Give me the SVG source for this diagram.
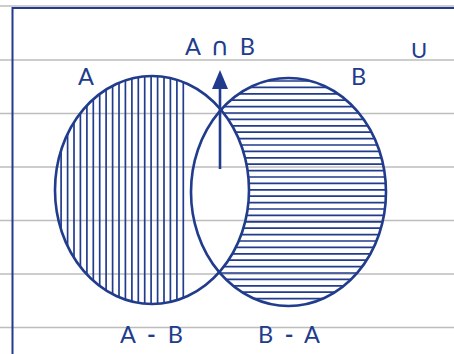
<svg xmlns="http://www.w3.org/2000/svg" width="454" height="354" viewBox="0 0 454 354">
<style>
.grid{stroke:#bdbdbd;stroke-width:1.5;fill:none}
.frame{stroke:#213c8c;stroke-width:2;fill:none}
.set{stroke:#213c8c;stroke-width:2.6;fill:none}
.hatch{stroke:#213c8c;stroke-width:1.7;fill:none}
.lbl{font-family:Lato,"Liberation Sans",sans-serif;font-size:23.5px;fill:#213c8c}
</style>
<defs>
<clipPath id="clipA"><ellipse cx="152" cy="190" rx="97" ry="114"/></clipPath>
<mask id="maskB" maskUnits="userSpaceOnUse" x="0" y="0" width="454" height="354">
<ellipse cx="288.5" cy="192" rx="97.5" ry="114" fill="#fff"/>
<ellipse cx="152" cy="190" rx="97" ry="114" fill="#000"/>
</mask>
</defs>
<g id="grid">
<path class="grid" d="M0 6H454M0 60H454M0 113.5H454M0 167H454M0 220.5H454M0 274H454M0 327.5H454"/>
</g>
<g id="frame">
<path class="frame" d="M12.5 354V8H454"/>
</g>
<g id="hatchA" clip-path="url(#clipA)">
<path class="hatch" d="M61.1 70V310M67.6 70V310M74 70V310M80.4 70V310M86.9 70V310M93.3 70V310M99.7 70V310M106.1 70V310M112.6 70V310M119 70V310M125.4 70V310M131.9 70V310M138.3 70V310M144.7 70V310M151.1 70V310M157.6 70V310M164 70V310M170.4 70V310M176.9 70V310M183.3 70V310"/>
</g>
<g id="hatchB" mask="url(#maskB)">
<path class="hatch" d="M180 81H400M180 87.4H400M180 93.8H400M180 100.2H400M180 106.6H400M180 113H400M180 119.4H400M180 125.8H400M180 132.2H400M180 138.6H400M180 145H400M180 151.4H400M180 157.8H400M180 164.2H400M180 170.6H400M180 177H400M180 183.4H400M180 189.8H400M180 196.2H400M180 202.6H400M180 209H400M180 215.4H400M180 221.8H400M180 228.2H400M180 234.6H400M180 241H400M180 247.4H400M180 253.8H400M180 260.2H400M180 266.6H400M180 273H400M180 279.4H400M180 285.8H400M180 292.2H400M180 298.6H400"/>
</g>
<g id="setA"><ellipse class="set" cx="152" cy="190" rx="97" ry="114"/></g>
<g id="setB"><ellipse class="set" cx="288.5" cy="192" rx="97.5" ry="114"/></g>
<g id="connectors">
<line x1="220" y1="169" x2="220" y2="86" stroke="#213c8c" stroke-width="2.6"/>
<polygon points="220,70 212,89 228,89" fill="#213c8c"/>
</g>
<g id="labels">
<text class="lbl" x="185" y="55" textLength="70" lengthAdjust="spacing">A <tspan style="font-family:'DejaVu Sans',sans-serif;font-size:25px">∩</tspan> B</text>
<text class="lbl" x="78" y="85">A</text>
<text class="lbl" x="351" y="85">B</text>
<text class="lbl" x="411" y="58" style="font-size:22px">U</text>
<text class="lbl" x="120" y="343" textLength="63" lengthAdjust="spacing">A <tspan style="font-weight:bold">-</tspan> B</text>
<text class="lbl" x="258" y="343" textLength="62" lengthAdjust="spacing">B <tspan style="font-weight:bold">-</tspan> A</text>
</g>
</svg>
